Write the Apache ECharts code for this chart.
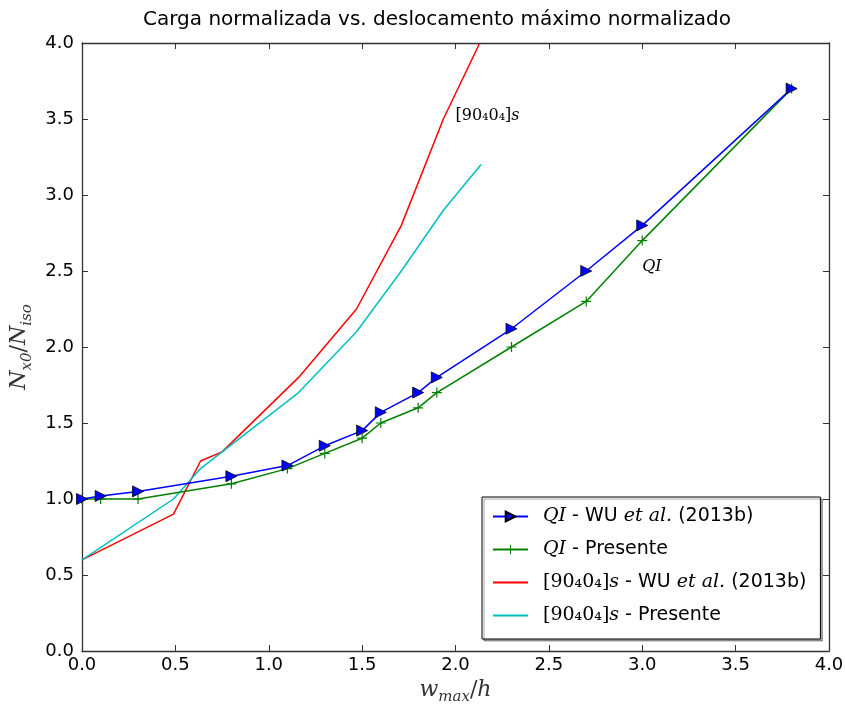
<!DOCTYPE html>
<html>
<head>
<meta charset="utf-8">
<script src="https://cdn.jsdelivr.net/npm/echarts@6/dist/echarts.min.js"></script>
<style>
  html, body { margin: 0; padding: 0; background: #fff; }
  #chart { width: 845px; height: 704px; }
</style>
</head>
<body>
<div id="chart"></div>
<script>
// QI - WU et al. (2013b)
var qiWuX = [0.0, 0.1, 0.3, 0.8, 1.1, 1.3, 1.5, 1.6, 1.8, 1.9, 2.3, 2.7, 3.0, 3.8];
var qiWuY = [1.0, 1.02, 1.05, 1.15, 1.22, 1.35, 1.45, 1.57, 1.70, 1.80, 2.12, 2.50, 2.80, 3.70];
// QI - Presente
var qiPrX = [0.0, 0.1, 0.3, 0.8, 1.1, 1.3, 1.5, 1.6, 1.8, 1.9, 2.3, 2.7, 3.0, 3.8];
var qiPrY = [1.0, 1.0, 1.0, 1.1, 1.2, 1.3, 1.4, 1.5, 1.6, 1.7, 2.0, 2.3, 2.7, 3.7];
// [90404]s - WU et al. (2013b)
var crWuX = [0.0, 0.49, 0.635, 0.75, 1.16, 1.47, 1.71, 1.935, 2.13];
var crWuY = [0.6, 0.9, 1.25, 1.31, 1.80, 2.25, 2.80, 3.50, 4.0];
// [90404]s - Presente
var crPrX = [0.0, 0.49, 0.635, 1.16, 1.47, 1.71, 1.935, 2.137];
var crPrY = [0.6, 1.0, 1.2, 1.70, 2.10, 2.50, 2.90, 3.20];

var names = ['qiWu', 'qiPr', 'crWu', 'crPr'];
var legendText = {
  qiWu: '{i|QI} - WU {i|et al.} (2013b)',
  qiPr: '{i|QI} - Presente',
  crWu: '{m|[90₄0₄]}{i|s} - WU {i|et al.} (2013b)',
  crPr: '{m|[90₄0₄]}{i|s} - Presente'
};

function pairs(xs, ys) {
  return xs.map(function (x, i) { return [x, ys[i]]; });
}

var plusPath = 'path://M4.4,0H5.6V4.4H10V5.6H5.6V10H4.4V5.6H0V4.4H4.4Z';

var chart = echarts.init(document.getElementById('chart'));

var axisCommon = {
  type: 'value',
  min: 0,
  max: 4,
  interval: 0.5,
  splitLine: { show: false },
  axisLine: { onZero: false, lineStyle: { color: '#333', width: 1.3 } },
  axisTick: { inside: true, length: 6, lineStyle: { color: '#333', width: 1 } }
};

var nameRich = {
  i: { fontFamily: 'DejaVu Serif', fontStyle: 'italic', fontSize: 22, lineHeight: 30, verticalAlign: 'middle' },
  s: { fontFamily: 'DejaVu Serif', fontStyle: 'italic', fontSize: 15, lineHeight: 30, verticalAlign: 'bottom' },
  n: { fontFamily: 'DejaVu Serif', fontSize: 22, lineHeight: 30, verticalAlign: 'middle' }
};

var tickLabel = {
  fontFamily: 'DejaVu Sans',
  fontSize: 18,
  color: '#000',
  formatter: function (v) { return v.toFixed(1); }
};

var option = {
  animation: false,
  backgroundColor: '#fff',
  title: {
    text: 'Carga normalizada vs. deslocamento máximo normalizado',
    left: 138,
    top: 5,
    textStyle: { fontFamily: 'DejaVu Sans', fontSize: 20, fontWeight: 'normal', color: '#000' }
  },
  grid: { left: 82, right: 16, top: 43, bottom: 53, outerBoundsMode: 'none', containLabel: false },
  legend: {
    data: [
      { name: 'qiWu' },
      { name: 'qiPr' },
      { name: 'crWu', itemStyle: { opacity: 0 } },
      { name: 'crPr', itemStyle: { opacity: 0 } }
    ],
    orient: 'vertical',
    left: 482,
    top: 497,
    padding: [8, 14, 12, 10],
    itemWidth: 35,
    itemHeight: 12,
    itemGap: 10,
    borderColor: '#000',
    borderWidth: 1,
    backgroundColor: '#fff',
    shadowColor: 'rgba(0,0,0,0.35)',
    shadowOffsetX: 2,
    shadowOffsetY: 2,
    shadowBlur: 0,
    formatter: function (n) { return legendText[n]; },
    textStyle: {
      fontFamily: 'DejaVu Sans',
      fontSize: 19,
      color: '#000',
      lineHeight: 23,
      padding: [0, 0, 0, 10],
      rich: {
        i: { fontFamily: 'DejaVu Serif', fontStyle: 'italic', fontSize: 19, lineHeight: 23 },
        m: { fontFamily: 'DejaVu Serif', fontSize: 19, lineHeight: 23 }
      }
    }
  },
  xAxis: [
    Object.assign({}, axisCommon, {
      position: 'bottom',
      name: '{i|w}{s|max}{n|/}{i|h}',
      nameLocation: 'middle',
      nameGap: 24,
      nameTextStyle: { rich: nameRich },
      axisLabel: Object.assign({ margin: 5 }, tickLabel)
    }),
    Object.assign({}, axisCommon, {
      position: 'top',
      axisLabel: { show: false }
    })
  ],
  yAxis: [
    Object.assign({}, axisCommon, {
      position: 'left',
      name: '{i|N}{s|x0}{n|/}{i|N}{s|iso}',
      nameLocation: 'middle',
      nameGap: 45,
      nameRotate: 90,
      nameTextStyle: { rich: nameRich },
      axisLabel: Object.assign({ margin: 8 }, tickLabel)
    }),
    Object.assign({}, axisCommon, {
      position: 'right',
      axisLabel: { show: false }
    })
  ],
  series: [
    {
      name: 'qiWu',
      type: 'line',
      data: pairs(qiWuX, qiWuY),
      symbol: 'triangle',
      symbolRotate: -90,
      symbolSize: 11,
      lineStyle: { color: '#0000ff', width: 1.5 },
      itemStyle: { color: '#0000ff', borderColor: '#000', borderWidth: 0.8 },
      z: 4
    },
    {
      name: 'qiPr',
      type: 'line',
      data: pairs(qiPrX, qiPrY),
      symbol: plusPath,
      symbolSize: 10,
      lineStyle: { color: '#008000', width: 1.5 },
      itemStyle: { color: '#008000', borderWidth: 0 },
      z: 3,
      markPoint: {
        symbol: 'circle',
        symbolSize: 0,
        data: [{
          coord: [3.0, 2.53],
          label: {
            show: true,
            position: 'right',
            distance: 0,
            formatter: 'QI',
            fontFamily: 'DejaVu Serif',
            fontStyle: 'italic',
            fontSize: 16,
            color: '#000'
          }
        }]
      }
    },
    {
      name: 'crWu',
      type: 'line',
      data: pairs(crWuX, crWuY),
      showSymbol: false,
      symbol: 'none',
      lineStyle: { color: '#ff0000', width: 1.5 },
      itemStyle: { color: '#ff0000' },
      z: 2,
      markPoint: {
        symbol: 'circle',
        symbolSize: 0,
        data: [{
          coord: [2.0, 3.52],
          label: {
            show: true,
            position: 'right',
            distance: 0,
            formatter: '{m|[90₄0₄]}{i|s}',
            rich: {
              m: { fontFamily: 'DejaVu Serif', fontSize: 16, color: '#000' },
              i: { fontFamily: 'DejaVu Serif', fontStyle: 'italic', fontSize: 16, color: '#000' }
            }
          }
        }]
      }
    },
    {
      name: 'crPr',
      type: 'line',
      data: pairs(crPrX, crPrY),
      showSymbol: false,
      symbol: 'none',
      lineStyle: { color: '#00bfbf', width: 1.5 },
      itemStyle: { color: '#00bfbf' },
      z: 2
    }
  ]
};

chart.setOption(option);
</script>
</body>
</html>
